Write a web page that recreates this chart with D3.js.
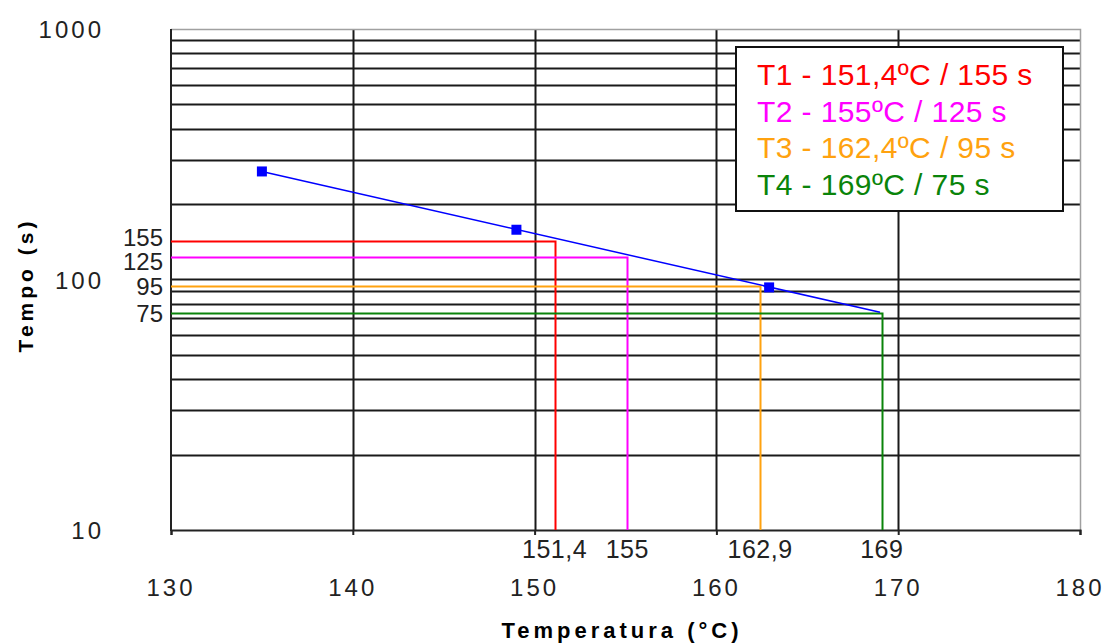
<!DOCTYPE html>
<html>
<head>
<meta charset="utf-8">
<script src="https://cdn.jsdelivr.net/npm/d3@7"></script>
<style>
  body { margin: 0; background: #fff; }
  svg { display: block; font-family: "Liberation Sans", Arial, sans-serif; }
</style>
</head>
<body>
<svg id="chart" width="1104" height="644"></svg>
<script>
// ---- data
var tempTicks = [130, 140, 150, 160, 170, 180];
var tempoTicks = [10, 100, 1000];

var pointTemp = [135, 149, 162.9];
var pointTempo = [270, 158, 93];

var trendTemp = [135, 169];
var trendTempo = [270, 74];

var refNames = ["T1", "T2", "T3", "T4"];
var refTemp = [151.1, 155.1, 162.4, 169.1];
var refTempo = [142, 123, 94, 73.5];
var refTempLabels = ["151,4", "155", "162,9", "169"];
var refTempoLabels = ["155", "125", "95", "75"];
var refColors = ["#ff0000", "#ff00ff", "#ffa20f", "#0a840a"];
var legendLabels = [
    "T1 - 151,4ºC / 155 s"
  , "T2 - 155ºC / 125 s"
  , "T3 - 162,4ºC / 95 s"
  , "T4 - 169ºC / 75 s"
];

/*
** Layout
*/
var svg = d3.select("#chart")
  , plot = { left: 171, right: 1080, top: 29, bottom: 530 }
  , x = d3.scaleLinear().domain([130, 180]).range([plot.left, plot.right])
  , y = d3.scaleLog().domain([10, 1000]).range([plot.bottom, plot.top])
;

// horizontal grid (every log tick)
svg.append("g").attr("class", "hgrid")
  .selectAll("line")
  .data(y.ticks().filter(function(d) { return d > 10 && d < 1000; }))
  .enter().append("line")
    .attr("x1", plot.left).attr("x2", plot.right)
    .attr("y1", function(d) { return Math.round(y(d)) + 0.5; })
    .attr("y2", function(d) { return Math.round(y(d)) + 0.5; })
    .attr("stroke", "#1a1a1a").attr("stroke-width", 2)
;
// vertical grid (major only)
svg.append("g").attr("class", "vgrid")
  .selectAll("line")
  .data(tempTicks.slice(1, -1))
  .enter().append("line")
    .attr("x1", function(d) { return Math.round(x(d)) + 0.5; })
    .attr("x2", function(d) { return Math.round(x(d)) + 0.5; })
    .attr("y1", plot.top).attr("y2", plot.bottom)
    .attr("stroke", "#1a1a1a").attr("stroke-width", 2)
;
// top and right frame, light
svg.append("path")
    .attr("d", "M" + plot.left + "," + (plot.top + 0.5) + "H" + (plot.right + 0.5) + "V" + plot.bottom)
    .attr("fill", "none").attr("stroke", "#a0a0a0").attr("stroke-width", 1.5)
;

// x axis with short ticks
var xAxis = d3.axisBottom(x).tickValues(tempTicks).tickSize(5).tickFormat("");
svg.append("g")
    .attr("transform", "translate(0," + plot.bottom + ")")
    .call(xAxis)
    .call(function(g) {
        g.select(".domain").attr("stroke", "#222").attr("stroke-width", 2);
        g.selectAll(".tick line").attr("stroke", "#222").attr("stroke-width", 2);
    })
;
svg.append("line")
    .attr("x1", plot.left).attr("x2", plot.left)
    .attr("y1", plot.top).attr("y2", plot.bottom + 1)
    .attr("stroke", "#222").attr("stroke-width", 2)
;

// main tick labels
svg.append("g").selectAll("text")
  .data(tempTicks)
  .enter().append("text")
    .attr("x", function(d) { return x(d); })
    .attr("y", 596)
    .attr("text-anchor", "middle")
    .attr("font-size", 24).attr("letter-spacing", 3)
    .attr("fill", "#222")
    .text(function(d) { return d; })
;
svg.append("g").selectAll("text")
  .data(tempoTicks)
  .enter().append("text")
    .attr("x", 104)
    .attr("y", function(d) { return y(d) + 9; })
    .attr("text-anchor", "end")
    .attr("font-size", 24).attr("letter-spacing", 3)
    .attr("fill", "#222")
    .text(function(d) { return d; })
;

// reference lines
var refs = refNames.map(function(n, i) {
    return { name: n, t: refTemp[i], s: refTempo[i], color: refColors[i]
           , tLabel: refTempLabels[i], sLabel: refTempoLabels[i] };
});
svg.append("g").attr("class", "refs")
  .selectAll("path")
  .data(refs)
  .enter().append("path")
    .attr("d", function(d) {
        return "M" + plot.left + "," + (Math.round(y(d.s)) + 0.5)
             + "H" + (Math.round(x(d.t)) + 0.5)
             + "V" + plot.bottom;
    })
    .attr("fill", "none")
    .attr("stroke", function(d) { return d.color; })
    .attr("stroke-width", 2)
;

// reference labels on the x axis
svg.append("g").selectAll("text")
  .data(refs)
  .enter().append("text")
    .attr("x", function(d) { return x(d.t); })
    .attr("y", 558)
    .attr("text-anchor", "middle")
    .attr("font-size", 25).attr("letter-spacing", 0.5)
    .attr("fill", "#222")
    .text(function(d) { return d.tLabel; })
;
// reference labels on the y axis, pushed apart where they crowd
var ly = refs.map(function(d) { return y(d.s); });
for (var i = 0; i < ly.length - 1; i++) {
    var gap = ly[i + 1] - ly[i];
    if (gap < 25) {
        var mid = (ly[i] + ly[i + 1]) / 2;
        ly[i] = mid - 12.5; ly[i + 1] = mid + 12.5;
    }
}
svg.append("g").selectAll("text")
  .data(refs)
  .enter().append("text")
    .attr("x", 163)
    .attr("y", function(d, i) { return ly[i] + 9; })
    .attr("text-anchor", "end")
    .attr("font-size", 24)
    .attr("fill", "#222")
    .text(function(d) { return d.sLabel; })
;

// blue series: trend line + markers
var line = d3.line()
    .x(function(d) { return x(d[0]); })
    .y(function(d) { return y(d[1]); })
;
svg.append("path")
    .datum(d3.zip(trendTemp, trendTempo))
    .attr("d", line)
    .attr("fill", "none")
    .attr("stroke", "#0000ff").attr("stroke-width", 1.5)
;
svg.append("g").selectAll("rect")
  .data(d3.zip(pointTemp, pointTempo))
  .enter().append("rect")
    .attr("x", function(d) { return x(d[0]) - 5; })
    .attr("y", function(d) { return y(d[1]) - 5; })
    .attr("width", 10).attr("height", 10)
    .attr("fill", "#0000ff")
;

// legend
var legend = svg.append("g").attr("transform", "translate(736,47)");
legend.append("rect")
    .attr("width", 327).attr("height", 164)
    .attr("fill", "#fff").attr("stroke", "#111").attr("stroke-width", 2)
;
legend.selectAll("text")
  .data(legendLabels)
  .enter().append("text")
    .attr("x", 21)
    .attr("y", function(d, i) { return 38 + i * 36.6; })
    .attr("font-size", 30).attr("letter-spacing", 0.4)
    .attr("fill", function(d, i) { return refColors[i]; })
    .text(function(d) { return d; })
;

// axis titles
svg.append("text")
    .attr("x", 622).attr("y", 638)
    .attr("text-anchor", "middle")
    .attr("font-size", 22).attr("font-weight", "bold").attr("letter-spacing", 4)
    .text("Temperatura (°C)")
;
svg.append("text")
    .attr("transform", "translate(33,285) rotate(-90)")
    .attr("text-anchor", "middle")
    .attr("font-size", 21).attr("font-weight", "bold").attr("letter-spacing", 4)
    .text("Tempo (s)")
;
</script>
</body>
</html>
